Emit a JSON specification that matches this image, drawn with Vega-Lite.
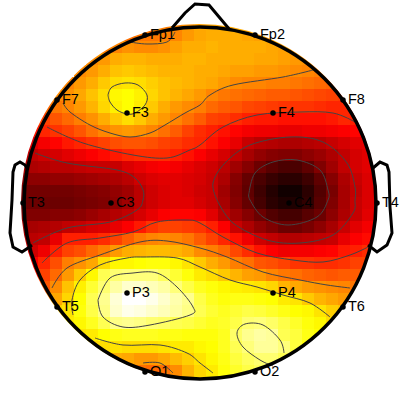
{"$schema":"https://vega.github.io/schema/vega-lite/v6.json","width":400,"height":400,"padding":0,"autosize":{"type":"none"},"background":"white","config":{"view":{"stroke":null}},
"datasets":{
"cells":[
{"x":-48,"y":-180,"v":55},{"x":-36,"y":-180,"v":56},{"x":-24,"y":-180,"v":57},{"x":-12,"y":-180,"v":59},{"x":0,"y":-180,"v":61},{"x":12,"y":-180,"v":62},{"x":24,"y":-180,"v":62},{"x":36,"y":-180,"v":62},{"x":48,"y":-180,"v":62},
{"x":-72,"y":-168,"v":54},{"x":-60,"y":-168,"v":55},{"x":-48,"y":-168,"v":55},{"x":-36,"y":-168,"v":56},{"x":-24,"y":-168,"v":57},{"x":-12,"y":-168,"v":60},{"x":0,"y":-168,"v":62},{"x":12,"y":-168,"v":63},{"x":24,"y":-168,"v":63},{"x":36,"y":-168,"v":63},{"x":48,"y":-168,"v":62},{"x":60,"y":-168,"v":61},{"x":72,"y":-168,"v":60},
{"x":-96,"y":-156,"v":56},{"x":-84,"y":-156,"v":57},{"x":-72,"y":-156,"v":59},{"x":-60,"y":-156,"v":58},{"x":-48,"y":-156,"v":58},{"x":-36,"y":-156,"v":59},{"x":-24,"y":-156,"v":61},{"x":-12,"y":-156,"v":63},{"x":0,"y":-156,"v":63},{"x":12,"y":-156,"v":64},{"x":24,"y":-156,"v":63},{"x":36,"y":-156,"v":63},{"x":48,"y":-156,"v":63},{"x":60,"y":-156,"v":63},{"x":72,"y":-156,"v":62},{"x":84,"y":-156,"v":61},{"x":96,"y":-156,"v":60},
{"x":-108,"y":-144,"v":58},{"x":-96,"y":-144,"v":60},{"x":-84,"y":-144,"v":63},{"x":-72,"y":-144,"v":64},{"x":-60,"y":-144,"v":64},{"x":-48,"y":-144,"v":63},{"x":-36,"y":-144,"v":63},{"x":-24,"y":-144,"v":63},{"x":-12,"y":-144,"v":64},{"x":0,"y":-144,"v":64},{"x":12,"y":-144,"v":63},{"x":24,"y":-144,"v":63},{"x":36,"y":-144,"v":63},{"x":48,"y":-144,"v":63},{"x":60,"y":-144,"v":62},{"x":72,"y":-144,"v":62},{"x":84,"y":-144,"v":61},{"x":96,"y":-144,"v":60},{"x":108,"y":-144,"v":59},
{"x":-120,"y":-132,"v":58},{"x":-108,"y":-132,"v":60},{"x":-96,"y":-132,"v":63},{"x":-84,"y":-132,"v":66},{"x":-72,"y":-132,"v":67},{"x":-60,"y":-132,"v":66},{"x":-48,"y":-132,"v":65},{"x":-36,"y":-132,"v":64},{"x":-24,"y":-132,"v":64},{"x":-12,"y":-132,"v":64},{"x":0,"y":-132,"v":63},{"x":12,"y":-132,"v":63},{"x":24,"y":-132,"v":62},{"x":36,"y":-132,"v":61},{"x":48,"y":-132,"v":61},{"x":60,"y":-132,"v":60},{"x":72,"y":-132,"v":60},{"x":84,"y":-132,"v":59},{"x":96,"y":-132,"v":58},{"x":108,"y":-132,"v":57},{"x":120,"y":-132,"v":56},
{"x":-132,"y":-120,"v":57},{"x":-120,"y":-120,"v":60},{"x":-108,"y":-120,"v":63},{"x":-96,"y":-120,"v":67},{"x":-84,"y":-120,"v":70},{"x":-72,"y":-120,"v":71},{"x":-60,"y":-120,"v":70},{"x":-48,"y":-120,"v":68},{"x":-36,"y":-120,"v":66},{"x":-24,"y":-120,"v":65},{"x":-12,"y":-120,"v":64},{"x":0,"y":-120,"v":63},{"x":12,"y":-120,"v":62},{"x":24,"y":-120,"v":60},{"x":36,"y":-120,"v":58},{"x":48,"y":-120,"v":57},{"x":60,"y":-120,"v":57},{"x":72,"y":-120,"v":56},{"x":84,"y":-120,"v":56},{"x":96,"y":-120,"v":55},{"x":108,"y":-120,"v":54},{"x":120,"y":-120,"v":53},{"x":132,"y":-120,"v":52},
{"x":-144,"y":-108,"v":58},{"x":-132,"y":-108,"v":59},{"x":-120,"y":-108,"v":62},{"x":-108,"y":-108,"v":66},{"x":-96,"y":-108,"v":70},{"x":-84,"y":-108,"v":74},{"x":-72,"y":-108,"v":75},{"x":-60,"y":-108,"v":73},{"x":-48,"y":-108,"v":69},{"x":-36,"y":-108,"v":66},{"x":-24,"y":-108,"v":64},{"x":-12,"y":-108,"v":62},{"x":0,"y":-108,"v":60},{"x":12,"y":-108,"v":57},{"x":24,"y":-108,"v":55},{"x":36,"y":-108,"v":54},{"x":48,"y":-108,"v":53},{"x":60,"y":-108,"v":52},{"x":72,"y":-108,"v":51},{"x":84,"y":-108,"v":51},{"x":96,"y":-108,"v":50},{"x":108,"y":-108,"v":49},{"x":120,"y":-108,"v":48},{"x":132,"y":-108,"v":47},{"x":144,"y":-108,"v":46},
{"x":-156,"y":-96,"v":53},{"x":-144,"y":-96,"v":55},{"x":-132,"y":-96,"v":57},{"x":-120,"y":-96,"v":60},{"x":-108,"y":-96,"v":64},{"x":-96,"y":-96,"v":69},{"x":-84,"y":-96,"v":73},{"x":-72,"y":-96,"v":75},{"x":-60,"y":-96,"v":72},{"x":-48,"y":-96,"v":67},{"x":-36,"y":-96,"v":63},{"x":-24,"y":-96,"v":60},{"x":-12,"y":-96,"v":58},{"x":0,"y":-96,"v":56},{"x":12,"y":-96,"v":53},{"x":24,"y":-96,"v":51},{"x":36,"y":-96,"v":50},{"x":48,"y":-96,"v":48},{"x":60,"y":-96,"v":47},{"x":72,"y":-96,"v":46},{"x":84,"y":-96,"v":45},{"x":96,"y":-96,"v":45},{"x":108,"y":-96,"v":45},{"x":120,"y":-96,"v":44},{"x":132,"y":-96,"v":43},{"x":144,"y":-96,"v":43},{"x":156,"y":-96,"v":41},
{"x":-156,"y":-84,"v":47},{"x":-144,"y":-84,"v":50},{"x":-132,"y":-84,"v":53},{"x":-120,"y":-84,"v":56},{"x":-108,"y":-84,"v":59},{"x":-96,"y":-84,"v":63},{"x":-84,"y":-84,"v":67},{"x":-72,"y":-84,"v":70},{"x":-60,"y":-84,"v":67},{"x":-48,"y":-84,"v":63},{"x":-36,"y":-84,"v":60},{"x":-24,"y":-84,"v":57},{"x":-12,"y":-84,"v":54},{"x":0,"y":-84,"v":51},{"x":12,"y":-84,"v":47},{"x":24,"y":-84,"v":46},{"x":36,"y":-84,"v":44},{"x":48,"y":-84,"v":42},{"x":60,"y":-84,"v":41},{"x":72,"y":-84,"v":41},{"x":84,"y":-84,"v":40},{"x":96,"y":-84,"v":40},{"x":108,"y":-84,"v":40},{"x":120,"y":-84,"v":40},{"x":132,"y":-84,"v":41},{"x":144,"y":-84,"v":43},{"x":156,"y":-84,"v":42},
{"x":-168,"y":-72,"v":41},{"x":-156,"y":-72,"v":43},{"x":-144,"y":-72,"v":45},{"x":-132,"y":-72,"v":47},{"x":-120,"y":-72,"v":50},{"x":-108,"y":-72,"v":54},{"x":-96,"y":-72,"v":57},{"x":-84,"y":-72,"v":59},{"x":-72,"y":-72,"v":60},{"x":-60,"y":-72,"v":59},{"x":-48,"y":-72,"v":57},{"x":-36,"y":-72,"v":54},{"x":-24,"y":-72,"v":51},{"x":-12,"y":-72,"v":47},{"x":0,"y":-72,"v":44},{"x":12,"y":-72,"v":42},{"x":24,"y":-72,"v":40},{"x":36,"y":-72,"v":38},{"x":48,"y":-72,"v":36},{"x":60,"y":-72,"v":35},{"x":72,"y":-72,"v":35},{"x":84,"y":-72,"v":34},{"x":96,"y":-72,"v":34},{"x":108,"y":-72,"v":35},{"x":120,"y":-72,"v":35},{"x":132,"y":-72,"v":36},{"x":144,"y":-72,"v":37},{"x":156,"y":-72,"v":38},{"x":168,"y":-72,"v":37},
{"x":-168,"y":-60,"v":33},{"x":-156,"y":-60,"v":36},{"x":-144,"y":-60,"v":38},{"x":-132,"y":-60,"v":41},{"x":-120,"y":-60,"v":43},{"x":-108,"y":-60,"v":45},{"x":-96,"y":-60,"v":47},{"x":-84,"y":-60,"v":49},{"x":-72,"y":-60,"v":50},{"x":-60,"y":-60,"v":50},{"x":-48,"y":-60,"v":49},{"x":-36,"y":-60,"v":47},{"x":-24,"y":-60,"v":46},{"x":-12,"y":-60,"v":44},{"x":0,"y":-60,"v":43},{"x":12,"y":-60,"v":40},{"x":24,"y":-60,"v":37},{"x":36,"y":-60,"v":34},{"x":48,"y":-60,"v":29},{"x":60,"y":-60,"v":27},{"x":72,"y":-60,"v":26},{"x":84,"y":-60,"v":25},{"x":96,"y":-60,"v":25},{"x":108,"y":-60,"v":26},{"x":120,"y":-60,"v":27},{"x":132,"y":-60,"v":29},{"x":144,"y":-60,"v":31},{"x":156,"y":-60,"v":33},{"x":168,"y":-60,"v":34},
{"x":-180,"y":-48,"v":28},{"x":-168,"y":-48,"v":28},{"x":-156,"y":-48,"v":30},{"x":-144,"y":-48,"v":31},{"x":-132,"y":-48,"v":33},{"x":-120,"y":-48,"v":35},{"x":-108,"y":-48,"v":37},{"x":-96,"y":-48,"v":39},{"x":-84,"y":-48,"v":41},{"x":-72,"y":-48,"v":43},{"x":-60,"y":-48,"v":44},{"x":-48,"y":-48,"v":44},{"x":-36,"y":-48,"v":44},{"x":-24,"y":-48,"v":42},{"x":-12,"y":-48,"v":40},{"x":0,"y":-48,"v":37},{"x":12,"y":-48,"v":34},{"x":24,"y":-48,"v":31},{"x":36,"y":-48,"v":28},{"x":48,"y":-48,"v":24},{"x":60,"y":-48,"v":21},{"x":72,"y":-48,"v":19},{"x":84,"y":-48,"v":18},{"x":96,"y":-48,"v":18},{"x":108,"y":-48,"v":20},{"x":120,"y":-48,"v":22},{"x":132,"y":-48,"v":25},{"x":144,"y":-48,"v":28},{"x":156,"y":-48,"v":31},{"x":168,"y":-48,"v":33},{"x":180,"y":-48,"v":33},
{"x":-180,"y":-36,"v":25},{"x":-168,"y":-36,"v":25},{"x":-156,"y":-36,"v":26},{"x":-144,"y":-36,"v":27},{"x":-132,"y":-36,"v":27},{"x":-120,"y":-36,"v":28},{"x":-108,"y":-36,"v":29},{"x":-96,"y":-36,"v":29},{"x":-84,"y":-36,"v":29},{"x":-72,"y":-36,"v":32},{"x":-60,"y":-36,"v":34},{"x":-48,"y":-36,"v":36},{"x":-36,"y":-36,"v":37},{"x":-24,"y":-36,"v":36},{"x":-12,"y":-36,"v":34},{"x":0,"y":-36,"v":32},{"x":12,"y":-36,"v":30},{"x":24,"y":-36,"v":27},{"x":36,"y":-36,"v":23},{"x":48,"y":-36,"v":19},{"x":60,"y":-36,"v":15},{"x":72,"y":-36,"v":12},{"x":84,"y":-36,"v":10},{"x":96,"y":-36,"v":10},{"x":108,"y":-36,"v":13},{"x":120,"y":-36,"v":18},{"x":132,"y":-36,"v":23},{"x":144,"y":-36,"v":28},{"x":156,"y":-36,"v":31},{"x":168,"y":-36,"v":33},{"x":180,"y":-36,"v":34},
{"x":-180,"y":-24,"v":20},{"x":-168,"y":-24,"v":20},{"x":-156,"y":-24,"v":20},{"x":-144,"y":-24,"v":21},{"x":-132,"y":-24,"v":21},{"x":-120,"y":-24,"v":22},{"x":-108,"y":-24,"v":23},{"x":-96,"y":-24,"v":24},{"x":-84,"y":-24,"v":25},{"x":-72,"y":-24,"v":27},{"x":-60,"y":-24,"v":30},{"x":-48,"y":-24,"v":32},{"x":-36,"y":-24,"v":33},{"x":-24,"y":-24,"v":33},{"x":-12,"y":-24,"v":32},{"x":0,"y":-24,"v":31},{"x":12,"y":-24,"v":29},{"x":24,"y":-24,"v":25},{"x":36,"y":-24,"v":19},{"x":48,"y":-24,"v":14},{"x":60,"y":-24,"v":10},{"x":72,"y":-24,"v":7},{"x":84,"y":-24,"v":5},{"x":96,"y":-24,"v":5},{"x":108,"y":-24,"v":8},{"x":120,"y":-24,"v":13},{"x":132,"y":-24,"v":19},{"x":144,"y":-24,"v":25},{"x":156,"y":-24,"v":29},{"x":168,"y":-24,"v":32},{"x":180,"y":-24,"v":33},
{"x":-180,"y":-12,"v":16},{"x":-168,"y":-12,"v":16},{"x":-156,"y":-12,"v":16},{"x":-144,"y":-12,"v":16},{"x":-132,"y":-12,"v":16},{"x":-120,"y":-12,"v":17},{"x":-108,"y":-12,"v":18},{"x":-96,"y":-12,"v":19},{"x":-84,"y":-12,"v":21},{"x":-72,"y":-12,"v":23},{"x":-60,"y":-12,"v":27},{"x":-48,"y":-12,"v":30},{"x":-36,"y":-12,"v":32},{"x":-24,"y":-12,"v":33},{"x":-12,"y":-12,"v":32},{"x":0,"y":-12,"v":30},{"x":12,"y":-12,"v":29},{"x":24,"y":-12,"v":23},{"x":36,"y":-12,"v":18},{"x":48,"y":-12,"v":13},{"x":60,"y":-12,"v":8},{"x":72,"y":-12,"v":4},{"x":84,"y":-12,"v":1},{"x":96,"y":-12,"v":1},{"x":108,"y":-12,"v":5},{"x":120,"y":-12,"v":11},{"x":132,"y":-12,"v":17},{"x":144,"y":-12,"v":24},{"x":156,"y":-12,"v":28},{"x":168,"y":-12,"v":32},{"x":180,"y":-12,"v":33},
{"x":-180,"y":0,"v":15},{"x":-168,"y":0,"v":15},{"x":-156,"y":0,"v":15},{"x":-144,"y":0,"v":15},{"x":-132,"y":0,"v":15},{"x":-120,"y":0,"v":16},{"x":-108,"y":0,"v":17},{"x":-96,"y":0,"v":18},{"x":-84,"y":0,"v":20},{"x":-72,"y":0,"v":23},{"x":-60,"y":0,"v":27},{"x":-48,"y":0,"v":30},{"x":-36,"y":0,"v":32},{"x":-24,"y":0,"v":33},{"x":-12,"y":0,"v":33},{"x":0,"y":0,"v":31},{"x":12,"y":0,"v":29},{"x":24,"y":0,"v":24},{"x":36,"y":0,"v":19},{"x":48,"y":0,"v":14},{"x":60,"y":0,"v":9},{"x":72,"y":0,"v":5},{"x":84,"y":0,"v":3},{"x":96,"y":0,"v":3},{"x":108,"y":0,"v":6},{"x":120,"y":0,"v":12},{"x":132,"y":0,"v":18},{"x":144,"y":0,"v":24},{"x":156,"y":0,"v":29},{"x":168,"y":0,"v":32},{"x":180,"y":0,"v":33},
{"x":-180,"y":12,"v":18},{"x":-168,"y":12,"v":18},{"x":-156,"y":12,"v":18},{"x":-144,"y":12,"v":19},{"x":-132,"y":12,"v":19},{"x":-120,"y":12,"v":20},{"x":-108,"y":12,"v":22},{"x":-96,"y":12,"v":24},{"x":-84,"y":12,"v":26},{"x":-72,"y":12,"v":28},{"x":-60,"y":12,"v":31},{"x":-48,"y":12,"v":34},{"x":-36,"y":12,"v":37},{"x":-24,"y":12,"v":38},{"x":-12,"y":12,"v":38},{"x":0,"y":12,"v":37},{"x":12,"y":12,"v":33},{"x":24,"y":12,"v":27},{"x":36,"y":12,"v":23},{"x":48,"y":12,"v":19},{"x":60,"y":12,"v":15},{"x":72,"y":12,"v":11},{"x":84,"y":12,"v":9},{"x":96,"y":12,"v":9},{"x":108,"y":12,"v":12},{"x":120,"y":12,"v":15},{"x":132,"y":12,"v":20},{"x":144,"y":12,"v":25},{"x":156,"y":12,"v":29},{"x":168,"y":12,"v":33},{"x":180,"y":12,"v":34},
{"x":-180,"y":24,"v":23},{"x":-168,"y":24,"v":24},{"x":-156,"y":24,"v":25},{"x":-144,"y":24,"v":26},{"x":-132,"y":24,"v":28},{"x":-120,"y":24,"v":29},{"x":-108,"y":24,"v":31},{"x":-96,"y":24,"v":32},{"x":-84,"y":24,"v":34},{"x":-72,"y":24,"v":37},{"x":-60,"y":24,"v":41},{"x":-48,"y":24,"v":45},{"x":-36,"y":24,"v":47},{"x":-24,"y":24,"v":47},{"x":-12,"y":24,"v":46},{"x":0,"y":24,"v":45},{"x":12,"y":24,"v":42},{"x":24,"y":24,"v":37},{"x":36,"y":24,"v":29},{"x":48,"y":24,"v":25},{"x":60,"y":24,"v":21},{"x":72,"y":24,"v":18},{"x":84,"y":24,"v":15},{"x":96,"y":24,"v":15},{"x":108,"y":24,"v":17},{"x":120,"y":24,"v":20},{"x":132,"y":24,"v":24},{"x":144,"y":24,"v":29},{"x":156,"y":24,"v":33},{"x":168,"y":24,"v":36},{"x":180,"y":24,"v":37},
{"x":-180,"y":36,"v":26},{"x":-168,"y":36,"v":27},{"x":-156,"y":36,"v":28},{"x":-144,"y":36,"v":34},{"x":-132,"y":36,"v":42},{"x":-120,"y":36,"v":42},{"x":-108,"y":36,"v":42},{"x":-96,"y":36,"v":44},{"x":-84,"y":36,"v":47},{"x":-72,"y":36,"v":51},{"x":-60,"y":36,"v":55},{"x":-48,"y":36,"v":57},{"x":-36,"y":36,"v":58},{"x":-24,"y":36,"v":57},{"x":-12,"y":36,"v":55},{"x":0,"y":36,"v":51},{"x":12,"y":36,"v":47},{"x":24,"y":36,"v":43},{"x":36,"y":36,"v":40},{"x":48,"y":36,"v":35},{"x":60,"y":36,"v":30},{"x":72,"y":36,"v":28},{"x":84,"y":36,"v":26},{"x":96,"y":36,"v":26},{"x":108,"y":36,"v":27},{"x":120,"y":36,"v":28},{"x":132,"y":36,"v":29},{"x":144,"y":36,"v":34},{"x":156,"y":36,"v":37},{"x":168,"y":36,"v":39},{"x":180,"y":36,"v":39},
{"x":-180,"y":48,"v":29},{"x":-168,"y":48,"v":30},{"x":-156,"y":48,"v":35},{"x":-144,"y":48,"v":42},{"x":-132,"y":48,"v":47},{"x":-120,"y":48,"v":49},{"x":-108,"y":48,"v":53},{"x":-96,"y":48,"v":56},{"x":-84,"y":48,"v":60},{"x":-72,"y":48,"v":63},{"x":-60,"y":48,"v":64},{"x":-48,"y":48,"v":65},{"x":-36,"y":48,"v":65},{"x":-24,"y":48,"v":64},{"x":-12,"y":48,"v":62},{"x":0,"y":48,"v":58},{"x":12,"y":48,"v":56},{"x":24,"y":48,"v":53},{"x":36,"y":48,"v":48},{"x":48,"y":48,"v":44},{"x":60,"y":48,"v":40},{"x":72,"y":48,"v":37},{"x":84,"y":48,"v":35},{"x":96,"y":48,"v":36},{"x":108,"y":48,"v":36},{"x":120,"y":48,"v":37},{"x":132,"y":48,"v":38},{"x":144,"y":48,"v":41},{"x":156,"y":48,"v":42},{"x":168,"y":48,"v":44},{"x":180,"y":48,"v":44},
{"x":-168,"y":60,"v":37},{"x":-156,"y":60,"v":43},{"x":-144,"y":60,"v":49},{"x":-132,"y":60,"v":56},{"x":-120,"y":60,"v":59},{"x":-108,"y":60,"v":62},{"x":-96,"y":60,"v":70},{"x":-84,"y":60,"v":74},{"x":-72,"y":60,"v":74},{"x":-60,"y":60,"v":75},{"x":-48,"y":60,"v":76},{"x":-36,"y":60,"v":76},{"x":-24,"y":60,"v":74},{"x":-12,"y":60,"v":71},{"x":0,"y":60,"v":67},{"x":12,"y":60,"v":63},{"x":24,"y":60,"v":60},{"x":36,"y":60,"v":56},{"x":48,"y":60,"v":54},{"x":60,"y":60,"v":50},{"x":72,"y":60,"v":49},{"x":84,"y":60,"v":47},{"x":96,"y":60,"v":45},{"x":108,"y":60,"v":45},{"x":120,"y":60,"v":44},{"x":132,"y":60,"v":44},{"x":144,"y":60,"v":45},{"x":156,"y":60,"v":47},{"x":168,"y":60,"v":47},
{"x":-168,"y":72,"v":41},{"x":-156,"y":72,"v":47},{"x":-144,"y":72,"v":53},{"x":-132,"y":72,"v":60},{"x":-120,"y":72,"v":67},{"x":-108,"y":72,"v":74},{"x":-96,"y":72,"v":83},{"x":-84,"y":72,"v":86},{"x":-72,"y":72,"v":87},{"x":-60,"y":72,"v":87},{"x":-48,"y":72,"v":87},{"x":-36,"y":72,"v":84},{"x":-24,"y":72,"v":80},{"x":-12,"y":72,"v":76},{"x":0,"y":72,"v":72},{"x":12,"y":72,"v":70},{"x":24,"y":72,"v":67},{"x":36,"y":72,"v":64},{"x":48,"y":72,"v":61},{"x":60,"y":72,"v":60},{"x":72,"y":72,"v":57},{"x":84,"y":72,"v":55},{"x":96,"y":72,"v":54},{"x":108,"y":72,"v":52},{"x":120,"y":72,"v":51},{"x":132,"y":72,"v":50},{"x":144,"y":72,"v":51},{"x":156,"y":72,"v":51},{"x":168,"y":72,"v":50},
{"x":-156,"y":84,"v":50},{"x":-144,"y":84,"v":58},{"x":-132,"y":84,"v":66},{"x":-120,"y":84,"v":73},{"x":-108,"y":84,"v":80},{"x":-96,"y":84,"v":86},{"x":-84,"y":84,"v":91},{"x":-72,"y":84,"v":95},{"x":-60,"y":84,"v":95},{"x":-48,"y":84,"v":93},{"x":-36,"y":84,"v":91},{"x":-24,"y":84,"v":87},{"x":-12,"y":84,"v":82},{"x":0,"y":84,"v":78},{"x":12,"y":84,"v":76},{"x":24,"y":84,"v":74},{"x":36,"y":84,"v":73},{"x":48,"y":84,"v":72},{"x":60,"y":84,"v":71},{"x":72,"y":84,"v":69},{"x":84,"y":84,"v":64},{"x":96,"y":84,"v":62},{"x":108,"y":84,"v":60},{"x":120,"y":84,"v":59},{"x":132,"y":84,"v":58},{"x":144,"y":84,"v":57},{"x":156,"y":84,"v":55},
{"x":-156,"y":96,"v":56},{"x":-144,"y":96,"v":62},{"x":-132,"y":96,"v":69},{"x":-120,"y":96,"v":75},{"x":-108,"y":96,"v":83},{"x":-96,"y":96,"v":89},{"x":-84,"y":96,"v":96},{"x":-72,"y":96,"v":100},{"x":-60,"y":96,"v":100},{"x":-48,"y":96,"v":98},{"x":-36,"y":96,"v":95},{"x":-24,"y":96,"v":92},{"x":-12,"y":96,"v":89},{"x":0,"y":96,"v":82},{"x":12,"y":96,"v":78},{"x":24,"y":96,"v":76},{"x":36,"y":96,"v":77},{"x":48,"y":96,"v":77},{"x":60,"y":96,"v":76},{"x":72,"y":96,"v":75},{"x":84,"y":96,"v":72},{"x":96,"y":96,"v":71},{"x":108,"y":96,"v":67},{"x":120,"y":96,"v":64},{"x":132,"y":96,"v":62},{"x":144,"y":96,"v":60},{"x":156,"y":96,"v":58},
{"x":-144,"y":108,"v":68},{"x":-132,"y":108,"v":71},{"x":-120,"y":108,"v":76},{"x":-108,"y":108,"v":82},{"x":-96,"y":108,"v":88},{"x":-84,"y":108,"v":95},{"x":-72,"y":108,"v":98},{"x":-60,"y":108,"v":97},{"x":-48,"y":108,"v":95},{"x":-36,"y":108,"v":93},{"x":-24,"y":108,"v":91},{"x":-12,"y":108,"v":88},{"x":0,"y":108,"v":83},{"x":12,"y":108,"v":80},{"x":24,"y":108,"v":78},{"x":36,"y":108,"v":80},{"x":48,"y":108,"v":82},{"x":60,"y":108,"v":81},{"x":72,"y":108,"v":79},{"x":84,"y":108,"v":77},{"x":96,"y":108,"v":75},{"x":108,"y":108,"v":74},{"x":120,"y":108,"v":71},{"x":132,"y":108,"v":68},{"x":144,"y":108,"v":66},
{"x":-132,"y":120,"v":72},{"x":-120,"y":120,"v":74},{"x":-108,"y":120,"v":78},{"x":-96,"y":120,"v":83},{"x":-84,"y":120,"v":88},{"x":-72,"y":120,"v":89},{"x":-60,"y":120,"v":88},{"x":-48,"y":120,"v":86},{"x":-36,"y":120,"v":85},{"x":-24,"y":120,"v":83},{"x":-12,"y":120,"v":82},{"x":0,"y":120,"v":80},{"x":12,"y":120,"v":78},{"x":24,"y":120,"v":79},{"x":36,"y":120,"v":82},{"x":48,"y":120,"v":86},{"x":60,"y":120,"v":87},{"x":72,"y":120,"v":85},{"x":84,"y":120,"v":82},{"x":96,"y":120,"v":79},{"x":108,"y":120,"v":76},{"x":120,"y":120,"v":74},{"x":132,"y":120,"v":70},
{"x":-120,"y":132,"v":71},{"x":-108,"y":132,"v":72},{"x":-96,"y":132,"v":75},{"x":-84,"y":132,"v":77},{"x":-72,"y":132,"v":78},{"x":-60,"y":132,"v":78},{"x":-48,"y":132,"v":78},{"x":-36,"y":132,"v":77},{"x":-24,"y":132,"v":77},{"x":-12,"y":132,"v":76},{"x":0,"y":132,"v":76},{"x":12,"y":132,"v":76},{"x":24,"y":132,"v":78},{"x":36,"y":132,"v":85},{"x":48,"y":132,"v":89},{"x":60,"y":132,"v":91},{"x":72,"y":132,"v":90},{"x":84,"y":132,"v":83},{"x":96,"y":132,"v":81},{"x":108,"y":132,"v":77},{"x":120,"y":132,"v":75},
{"x":-108,"y":144,"v":69},{"x":-96,"y":144,"v":70},{"x":-84,"y":144,"v":71},{"x":-72,"y":144,"v":70},{"x":-60,"y":144,"v":70},{"x":-48,"y":144,"v":70},{"x":-36,"y":144,"v":71},{"x":-24,"y":144,"v":72},{"x":-12,"y":144,"v":72},{"x":0,"y":144,"v":74},{"x":12,"y":144,"v":75},{"x":24,"y":144,"v":78},{"x":36,"y":144,"v":83},{"x":48,"y":144,"v":87},{"x":60,"y":144,"v":90},{"x":72,"y":144,"v":90},{"x":84,"y":144,"v":87},{"x":96,"y":144,"v":81},{"x":108,"y":144,"v":76},
{"x":-96,"y":156,"v":62},{"x":-84,"y":156,"v":63},{"x":-72,"y":156,"v":62},{"x":-60,"y":156,"v":60},{"x":-48,"y":156,"v":60},{"x":-36,"y":156,"v":62},{"x":-24,"y":156,"v":65},{"x":-12,"y":156,"v":68},{"x":0,"y":156,"v":71},{"x":12,"y":156,"v":74},{"x":24,"y":156,"v":77},{"x":36,"y":156,"v":81},{"x":48,"y":156,"v":84},{"x":60,"y":156,"v":86},{"x":72,"y":156,"v":86},{"x":84,"y":156,"v":83},{"x":96,"y":156,"v":79},
{"x":-72,"y":168,"v":55},{"x":-60,"y":168,"v":54},{"x":-48,"y":168,"v":53},{"x":-36,"y":168,"v":54},{"x":-24,"y":168,"v":58},{"x":-12,"y":168,"v":64},{"x":0,"y":168,"v":69},{"x":12,"y":168,"v":72},{"x":24,"y":168,"v":76},{"x":36,"y":168,"v":79},{"x":48,"y":168,"v":82},{"x":60,"y":168,"v":84},{"x":72,"y":168,"v":84},
{"x":-48,"y":180,"v":50},{"x":-36,"y":180,"v":52},{"x":-24,"y":180,"v":56},{"x":-12,"y":180,"v":62},{"x":0,"y":180,"v":68},{"x":12,"y":180,"v":71},{"x":24,"y":180,"v":75},{"x":36,"y":180,"v":78},{"x":48,"y":180,"v":80}
],
"contours":[
{"id":"a","i":0,"x":-92,"y":-108},{"id":"a","i":1,"x":-88,"y":-116},{"id":"a","i":2,"x":-75,"y":-120},{"id":"a","i":3,"x":-62,"y":-118},{"id":"a","i":4,"x":-53,"y":-108},{"id":"a","i":5,"x":-55,"y":-98},{"id":"a","i":6,"x":-65,"y":-90},{"id":"a","i":7,"x":-73,"y":-89},{"id":"a","i":8,"x":-83,"y":-93},{"id":"a","i":9,"x":-90,"y":-101},{"id":"a","i":10,"x":-92,"y":-108},
{"id":"b","i":0,"x":-137,"y":-100},{"id":"b","i":1,"x":-130,"y":-91},{"id":"b","i":2,"x":-110,"y":-78},{"id":"b","i":3,"x":-90,"y":-70},{"id":"b","i":4,"x":-70,"y":-66},{"id":"b","i":5,"x":-50,"y":-70},{"id":"b","i":6,"x":-35,"y":-78},{"id":"b","i":7,"x":-15,"y":-90},{"id":"b","i":8,"x":0,"y":-98},{"id":"b","i":9,"x":10,"y":-108},{"id":"b","i":10,"x":33,"y":-118},{"id":"b","i":11,"x":83,"y":-126},{"id":"b","i":12,"x":113,"y":-133},
{"id":"c","i":0,"x":-153,"y":-76},{"id":"c","i":1,"x":-117,"y":-60},{"id":"c","i":2,"x":-67,"y":-48},{"id":"c","i":3,"x":-33,"y":-45},{"id":"c","i":4,"x":-10,"y":-53},{"id":"c","i":5,"x":0,"y":-58},{"id":"c","i":6,"x":23,"y":-76},{"id":"c","i":7,"x":57,"y":-88},{"id":"c","i":8,"x":100,"y":-91},{"id":"c","i":9,"x":133,"y":-90},{"id":"c","i":10,"x":155,"y":-81},
{"id":"d","i":0,"x":-165,"y":-50},{"id":"d","i":1,"x":-133,"y":-40},{"id":"d","i":2,"x":-83,"y":-33},{"id":"d","i":3,"x":-65,"y":-25},{"id":"d","i":4,"x":-57,"y":-13},{"id":"d","i":5,"x":-57,"y":-3},{"id":"d","i":6,"x":-63,"y":7},{"id":"d","i":7,"x":-90,"y":19},{"id":"d","i":8,"x":-133,"y":25},{"id":"d","i":9,"x":-167,"y":40},
{"id":"e","i":0,"x":17,"y":-3},{"id":"e","i":1,"x":13,"y":-20},{"id":"e","i":2,"x":25,"y":-40},{"id":"e","i":3,"x":50,"y":-58},{"id":"e","i":4,"x":90,"y":-66},{"id":"e","i":5,"x":123,"y":-61},{"id":"e","i":6,"x":147,"y":-40},{"id":"e","i":7,"x":155,"y":-16},{"id":"e","i":8,"x":155,"y":-3},{"id":"e","i":9,"x":153,"y":10},{"id":"e","i":10,"x":133,"y":32},{"id":"e","i":11,"x":100,"y":40},{"id":"e","i":12,"x":67,"y":37},{"id":"e","i":13,"x":33,"y":20},{"id":"e","i":14,"x":17,"y":-3},
{"id":"f","i":0,"x":49,"y":-10},{"id":"f","i":1,"x":55,"y":-30},{"id":"f","i":2,"x":73,"y":-41},{"id":"f","i":3,"x":97,"y":-43},{"id":"f","i":4,"x":120,"y":-33},{"id":"f","i":5,"x":128,"y":-13},{"id":"f","i":6,"x":128,"y":-3},{"id":"f","i":7,"x":117,"y":14},{"id":"f","i":8,"x":88,"y":22},{"id":"f","i":9,"x":63,"y":14},{"id":"f","i":10,"x":50,"y":-3},{"id":"f","i":11,"x":49,"y":-10},
{"id":"g","i":0,"x":-158,"y":60},{"id":"g","i":1,"x":-133,"y":40},{"id":"g","i":2,"x":-100,"y":35},{"id":"g","i":3,"x":-67,"y":29},{"id":"g","i":4,"x":-43,"y":19},{"id":"g","i":5,"x":-13,"y":17},{"id":"g","i":6,"x":0,"y":20},{"id":"g","i":7,"x":23,"y":34},{"id":"g","i":8,"x":57,"y":50},{"id":"g","i":9,"x":93,"y":57},{"id":"g","i":10,"x":123,"y":59},{"id":"g","i":11,"x":150,"y":52},{"id":"g","i":12,"x":168,"y":44},
{"id":"h","i":0,"x":-148,"y":85},{"id":"h","i":1,"x":-133,"y":65},{"id":"h","i":2,"x":-100,"y":52},{"id":"h","i":3,"x":-60,"y":39},{"id":"h","i":4,"x":-33,"y":38},{"id":"h","i":5,"x":0,"y":45},{"id":"h","i":6,"x":27,"y":54},{"id":"h","i":7,"x":63,"y":69},{"id":"h","i":8,"x":100,"y":77},{"id":"h","i":9,"x":127,"y":82},{"id":"h","i":10,"x":150,"y":85},
{"id":"j","i":0,"x":-127,"y":112},{"id":"j","i":1,"x":-128,"y":97},{"id":"j","i":2,"x":-120,"y":77},{"id":"j","i":3,"x":-100,"y":62},{"id":"j","i":4,"x":-73,"y":55},{"id":"j","i":5,"x":-57,"y":54},{"id":"j","i":6,"x":-23,"y":55},{"id":"j","i":7,"x":0,"y":64},{"id":"j","i":8,"x":30,"y":77},{"id":"j","i":9,"x":57,"y":84},{"id":"j","i":10,"x":83,"y":92},{"id":"j","i":11,"x":110,"y":100},{"id":"j","i":12,"x":130,"y":114},
{"id":"k","i":0,"x":-105,"y":135},{"id":"k","i":1,"x":-77,"y":142},{"id":"k","i":2,"x":-40,"y":142},{"id":"k","i":3,"x":-13,"y":150},{"id":"k","i":4,"x":0,"y":160},{"id":"k","i":5,"x":13,"y":170},
{"id":"l","i":0,"x":-102,"y":97},{"id":"l","i":1,"x":-90,"y":75},{"id":"l","i":2,"x":-67,"y":70},{"id":"l","i":3,"x":-43,"y":70},{"id":"l","i":4,"x":-23,"y":84},{"id":"l","i":5,"x":-7,"y":104},{"id":"l","i":6,"x":-10,"y":112},{"id":"l","i":7,"x":-50,"y":122},{"id":"l","i":8,"x":-77,"y":124},{"id":"l","i":9,"x":-97,"y":114},{"id":"l","i":10,"x":-102,"y":97},
{"id":"m","i":0,"x":84,"y":150},{"id":"m","i":1,"x":80,"y":137},{"id":"m","i":2,"x":63,"y":122},{"id":"m","i":3,"x":45,"y":121},{"id":"m","i":4,"x":37,"y":130},{"id":"m","i":5,"x":43,"y":144},{"id":"m","i":6,"x":60,"y":157},{"id":"m","i":7,"x":73,"y":163},
{"id":"n","i":0,"x":-57,"y":160},{"id":"n","i":1,"x":-40,"y":160},{"id":"n","i":2,"x":-27,"y":170},
{"id":"o","i":0,"x":-70,"y":-161},{"id":"o","i":1,"x":-53,"y":-159},{"id":"o","i":2,"x":-33,"y":-161},{"id":"o","i":3,"x":-25,"y":-171}
],
"outline":[
{"id":"nose","i":0,"x":-28,"y":-175},{"id":"nose","i":1,"x":-15,"y":-190},{"id":"nose","i":2,"x":-5,"y":-199},{"id":"nose","i":3,"x":9,"y":-198},{"id":"nose","i":4,"x":30,"y":-173},
{"id":"earL","i":0,"x":-172,"y":-33},{"id":"earL","i":1,"x":-175,"y":-38},{"id":"earL","i":2,"x":-180,"y":-41},{"id":"earL","i":3,"x":-185,"y":-38},{"id":"earL","i":4,"x":-187,"y":-31},{"id":"earL","i":5,"x":-188,"y":-3},{"id":"earL","i":6,"x":-190,"y":30},{"id":"earL","i":7,"x":-187,"y":44},{"id":"earL","i":8,"x":-178,"y":49},{"id":"earL","i":9,"x":-172,"y":45},{"id":"earL","i":10,"x":-168,"y":42},
{"id":"earR","i":0,"x":173,"y":-35},{"id":"earR","i":1,"x":180,"y":-41},{"id":"earR","i":2,"x":187,"y":-38},{"id":"earR","i":3,"x":189,"y":-31},{"id":"earR","i":4,"x":190,"y":4},{"id":"earR","i":5,"x":192,"y":30},{"id":"earR","i":6,"x":187,"y":42},{"id":"earR","i":7,"x":177,"y":49},{"id":"earR","i":8,"x":168,"y":42}
],
"sites":[
{"name":"Fp1","x":-55,"y":-168},{"name":"Fp2","x":55,"y":-168},{"name":"F7","x":-143,"y":-103},{"name":"F3","x":-73,"y":-90},{"name":"F4","x":73,"y":-90},{"name":"F8","x":143,"y":-103},{"name":"T3","x":-177,"y":0},{"name":"C3","x":-89,"y":0},{"name":"C4","x":89,"y":0},{"name":"T4","x":177,"y":0},{"name":"T5","x":-143,"y":104},{"name":"P3","x":-73,"y":90},{"name":"P4","x":73,"y":90},{"name":"T6","x":143,"y":104},{"name":"O1","x":-55,"y":169},{"name":"O2","x":55,"y":169}
]
},
"encoding":{
"x":{"field":"x","type":"quantitative","scale":{"domain":[-200,200],"nice":false,"zero":false},"axis":null},
"y":{"field":"y","type":"quantitative","scale":{"domain":[-203,197],"range":[0,400],"nice":false,"zero":false},"axis":null}
},
"layer":[
{"data":{"name":"cells"},"mark":{"type":"rect","width":12,"height":12},"encoding":{"color":{"field":"v","type":"quantitative","scale":{"domain":[0,37.5,75,100],"range":["#0a0000","#ff0000","#ffff00","#ffffff"],"interpolate":"rgb"},"legend":null}}},
{"data":{"values":[{"x":-1,"y":-1}]},"mark":{"type":"point","shape":"circle","filled":false,"stroke":"white","strokeWidth":60,"size":173056,"opacity":1}},
{"data":{"name":"contours"},"mark":{"type":"line","stroke":"#444444","strokeWidth":1,"interpolate":"cardinal"},"encoding":{"detail":{"field":"id"},"order":{"field":"i"}}},
{"data":{"values":[{"x":0,"y":0}]},"mark":{"type":"point","shape":"circle","filled":false,"stroke":"black","strokeWidth":3.5,"size":123904,"opacity":1}},
{"data":{"name":"outline"},"mark":{"type":"line","stroke":"black","strokeWidth":3},"encoding":{"detail":{"field":"id"},"order":{"field":"i"}}},
{"data":{"name":"sites"},"mark":{"type":"point","shape":"circle","filled":true,"fill":"black","stroke":null,"size":30,"opacity":1}},
{"data":{"name":"sites"},"mark":{"type":"text","align":"left","baseline":"middle","dx":5,"fontSize":14.5,"font":"Liberation Sans","fill":"black"},"encoding":{"text":{"field":"name"}}}
]}
